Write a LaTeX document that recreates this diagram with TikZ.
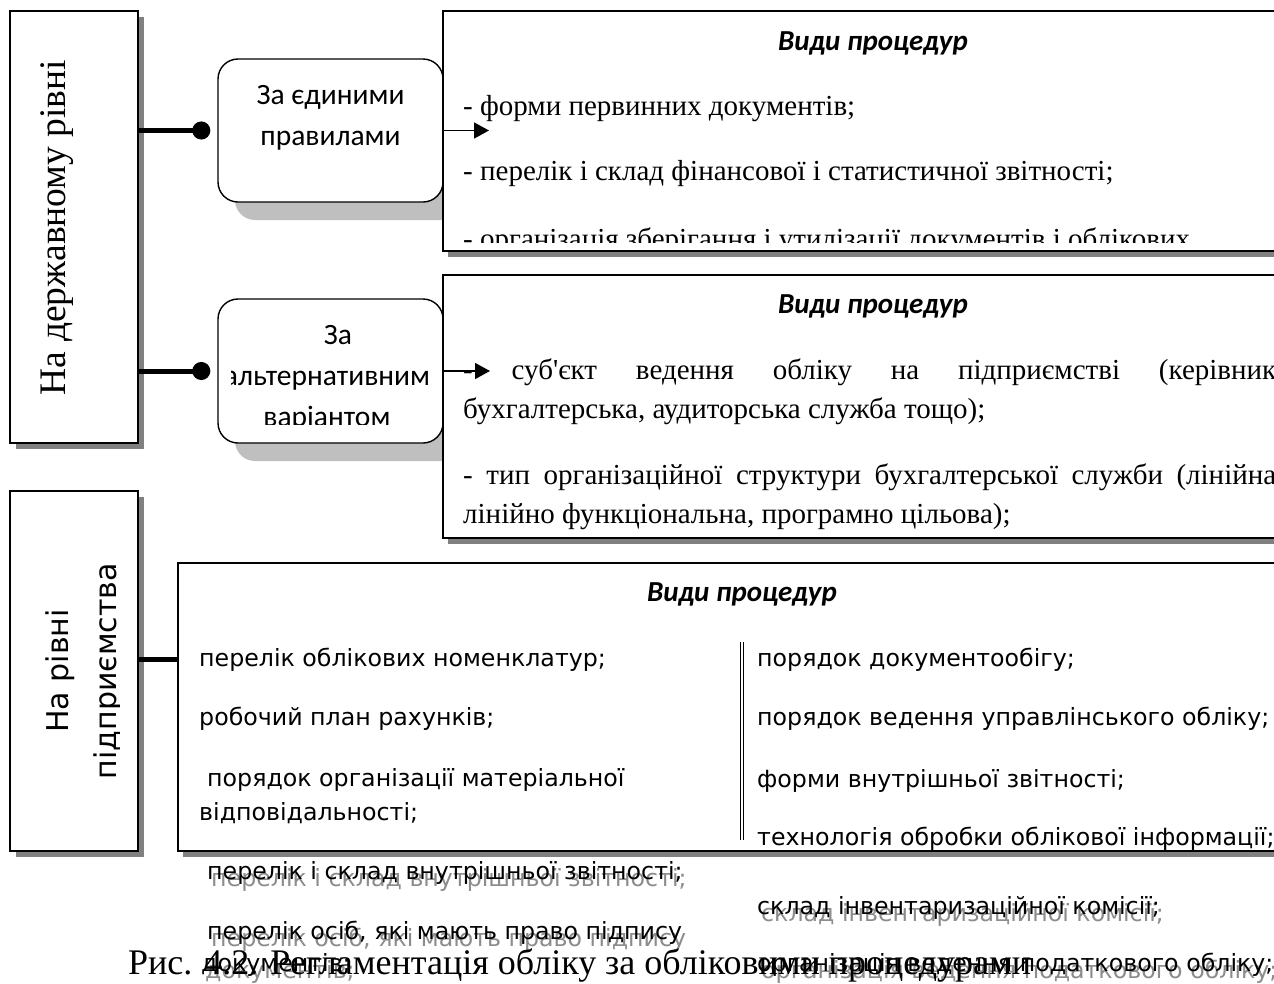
\documentclass[tikz,border=0pt]{standalone}
\usepackage{fontspec}
\setmainfont{Liberation Serif}
\newfontfamily\calibri{Carlito}
\newfontfamily\verdana{DejaVu Sans}
\usetikzlibrary{shadows,arrows.meta}

\begin{document}
\begin{tikzpicture}[x=1pt, y=-1pt,
    levelbox/.style={draw, line width=1.6pt, fill=white, minimum width=128pt, drop shadow={shadow xshift=6pt, shadow yshift=-6pt, fill=black!50, opacity=1}},
    rulebox/.style={draw, line width=1.4pt, fill=white, rounded corners=20pt, minimum width=225pt, drop shadow={shadow xshift=17pt, shadow yshift=-18pt, fill=black!25, opacity=1}},
    procbox/.style={draw, line width=1.6pt, fill=white, drop shadow={shadow xshift=5pt, shadow yshift=-6pt, fill=black!50, opacity=1}},
    dotline/.style={line width=5pt, -{Circle[length=18pt]}, shorten >=7pt},
    thickline/.style={line width=5pt},
    arrow/.style={line width=1.5pt, -{Triangle[length=15pt, width=16pt]}},
    serif/.style={font=\fontsize{29}{35}\selectfont, inner sep=0pt, anchor=base west},
    title/.style={font=\calibri\bfseries\itshape\fontsize{29}{35}\selectfont, inner sep=0pt, anchor=base},
    rulelabel/.style={font=\calibri\fontsize{29.5}{35}\selectfont, inner sep=0pt, anchor=base},
    item/.style={font=\verdana\fontsize{23.7}{30}\selectfont, inner sep=0pt, anchor=base west},
    spill/.style={item, text=black!45},
    vlabel/.style={rotate=90, inner sep=0pt, anchor=base}
]

\path[fill=white, use as bounding box] (0,0) rectangle (1274,983);
\clip (0,0) rectangle (1274,983);

\node[levelbox, minimum height=432pt] (state) at (74,227) {};
\node[levelbox, minimum height=360pt] (ent) at (74,671) {};
\node[rulebox, minimum height=143pt] (ruleA) at (330.5,130.5) {};
\node[rulebox, minimum height=144pt] (ruleB) at (330.5,371) {};
\node[procbox, minimum width=900pt, minimum height=240pt] (procA) at (893,131) {};
\node[procbox, minimum width=900pt, minimum height=263pt] (procB) at (893,406.5) {};
\node[procbox, minimum width=1150pt, minimum height=288pt] (procC) at (753,707) {};

\node[vlabel, font=\fontsize{37.5}{45}\selectfont] (stateLabel) at (65,227.5) {На державному рівні};
\begin{scope}
\clip (10,491) rectangle (119,851);
\node[vlabel, font=\verdana\fontsize{30}{36}\selectfont] (entLabelA) at (68,671) {На рівні};
\node[vlabel, font=\verdana\fontsize{30}{36}\selectfont] (entLabelB) at (116,671) {підприємства};
\end{scope}

\node[rulelabel] (ruleAtop) at (330.5,104) {За єдиними};
\node[rulelabel] (ruleAbot) at (330.5,145) {правилами};
\begin{scope}
\clip (231,299) rectangle (437,424);
\node[rulelabel] (ruleBtop) at (338,344) {За};
\node[rulelabel] (ruleBmid) at (327,385) {альтернативним};
\node[rulelabel] (ruleBbot) at (327,426) {варіантом};
\end{scope}

\coordinate (tipA) at (489,130.5);
\coordinate (tipB) at (490,371);
\coordinate (entJoin) at (138,659);
\draw[dotline] (state.east |- ruleA.west) -- (ruleA.west);
\draw[dotline] (state.east |- ruleB.west) -- (ruleB.west);
\draw[thickline] (entJoin) -- (entJoin -| procC.west);

\node[title] (procAtitle) at (873,50) {Види процедур};
\begin{scope}
\clip (443,11) rectangle (1274,242);
\node[serif] (formA) at (463,115) {- форми первинних документів;};
\node[serif] (formB) at (463,180) {- перелік і склад фінансової і статистичної звітності;};
\node[serif] (formC) at (463,248) {- організація зберігання і утилізації документів і облікових};
\end{scope}

\node[title] (procBtitle) at (873,313) {Види процедур};
\node[serif] (subjA) at (463,379) {\makebox[813pt][s]{- суб\textquotesingle єкт ведення обліку на підприємстві (керівник}};
\node[serif] (subjB) at (463,418) {бухгалтерська, аудиторська служба тощо);};
\node[serif] (typeA) at (463,484) {\makebox[813pt][s]{- тип організаційної структури бухгалтерської служби (лінійна}};
\node[serif] (typeB) at (463,523) {лінійно функціональна, програмно цільова);};

\draw[arrow] (ruleA.east) -- (tipA);
\draw[arrow] (ruleB.east) -- (tipB);

\node[title] (procCtitle) at (742,601) {Види процедур};
\draw[double, double distance=2pt, line width=0.8pt] (742,642) -- (742,840);
\node[item] (itemL1) at (199,666) {перелік облікових номенклатур;};
\node[item] (itemL2) at (199,725) {робочий план рахунків;};
\node[item] (itemL3) at (207,786) {порядок організації матеріальної};
\node[item] (itemL4) at (199,820) {відповідальності;};
\node[item] (itemR1) at (757,666) {порядок документообігу;};
\node[item] (itemR2) at (757,725) {порядок ведення управлінського обліку;};
\node[item] (itemR3) at (757,787) {форми внутрішньої звітності;};
\node[item] (itemR4) at (757,845) {технологія обробки облікової інформації;};

\node[spill] (spillL5) at (211,886) {перелік і склад внутрішньої звітності;};
\node[spill] (spillL6) at (211,946) {перелік осіб, які мають право підпису};
\node[spill] (spillL7) at (205,978) {документів;};
\node[spill] (spillR5) at (761,921) {склад інвентаризаційної комісії;};
\node[spill] (spillR6) at (761,978) {організація ведення податкового обліку;};

\node[font=\fontsize{36}{43}\selectfont, inner sep=0pt, anchor=base west] (caption) at (128,974) {Рис. 4.2. Регламентація обліку за обліковими процедурами};

\node[item] (itemL5) at (207,879) {перелік і склад внутрішньої звітності;};
\node[item] (itemL6) at (207,939) {перелік осіб, які мають право підпису};
\node[item] (itemL7) at (201,971) {документів;};
\node[item] (itemR5) at (757,914) {склад інвентаризаційної комісії;};
\node[item] (itemR6) at (757,971) {організація ведення податкового обліку;};

\end{tikzpicture}
\end{document}
